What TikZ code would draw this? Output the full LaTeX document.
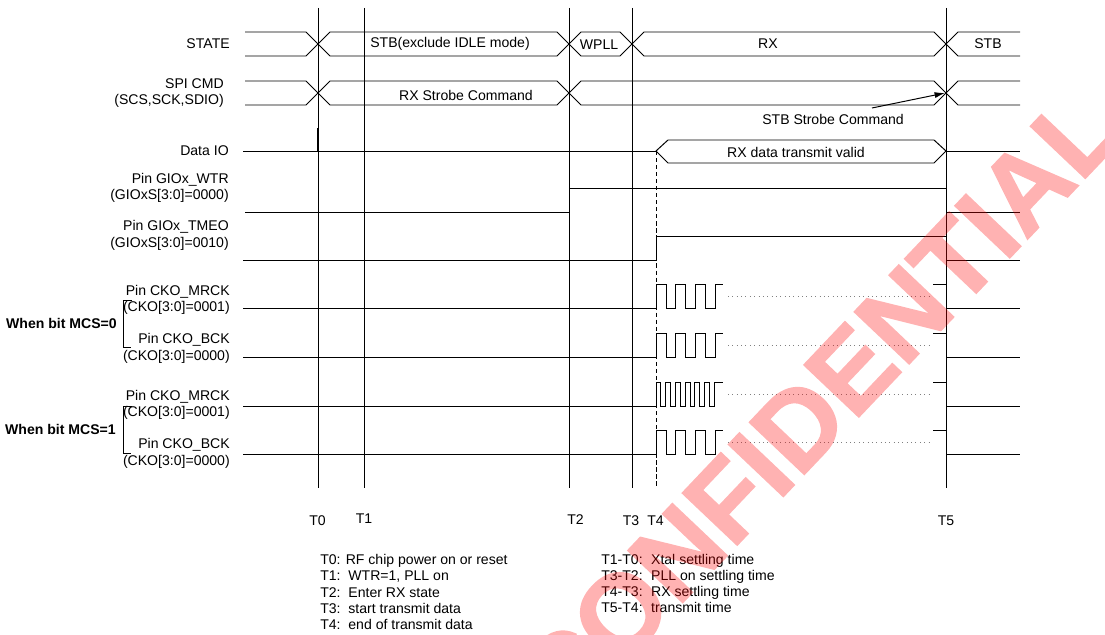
\documentclass[tikz,border=0pt]{standalone}
\usepackage{fontspec}
\setmainfont{Liberation Sans}
\newfontfamily\wmfont{Liberation Sans Bold}[FakeBold=1.5]
\usetikzlibrary{arrows.meta}

\begin{document}
\begin{tikzpicture}[x=0.025cm,y=-0.025cm,>={Latex[length=2.6mm,width=1.5mm]},
 font=\fontsize{10}{11.6}\selectfont,
 sig/.style={line width=0.7pt},
 tline/.style={line width=0.7pt},
 lbl/.style={anchor=east,align=right,inner sep=0pt},
 txt/.style={inner sep=0pt},
 grp/.style={anchor=east,inner sep=0pt,font=\fontsize{10}{11.6}\selectfont\bfseries},
 dots/.style={gray,line width=0.6pt,dash pattern=on 0.7pt off 2.4pt}]
\useasboundingbox (0,0) rectangle (1105,635);
% signal names
\node[lbl] (nstate) at (230,44) {STATE};
\node[lbl] (nspi) at (224,93) {SPI CMD\\(SCS,SCK,SDIO)};
\node[lbl] (ndio) at (229,151) {Data IO};
\node[lbl] (nwtr) at (229,188) {Pin GIOx\_WTR\\(GIOxS[3:0]=0000)};
\node[lbl] (ntmeo) at (229,235.5) {Pin GIOx\_TMEO\\(GIOxS[3:0]=0010)};
\node[lbl] (nmrck0) at (230,300) {Pin CKO\_MRCK\\(CKO[3:0]=0001)};
\node[lbl] (nbck0) at (230,348.5) {Pin CKO\_BCK\\(CKO[3:0]=0000)};
\node[lbl] (nmrck1) at (230,405) {Pin CKO\_MRCK\\(CKO[3:0]=0001)};
\node[lbl] (nbck1) at (230,453.5) {Pin CKO\_BCK\\(CKO[3:0]=0000)};
\node[grp] (mcs0) at (117,323) {When bit MCS=0};
\node[grp] (mcs1) at (116,429) {When bit MCS=1};
\draw[sig] (132,300) -- (123,300) -- (123,347) -- (131,347);
\draw[sig] (132,406) -- (123,406) -- (123,453) -- (131,453);
% time marks
\foreach \t in {318,364,569,632,946} \draw[tline] (\t,8) -- (\t,488);
\draw[tline,dash pattern=on 3pt off 2pt] (656,151) -- (656,488);
\node[txt] (t0) at (317.5,521) {T0};
\node[txt] (t1) at (364,519) {T1};
\node[txt] (t2) at (575.5,520) {T2};
\node[txt] (t3) at (631,521) {T3};
\node[txt] (t4) at (655.5,521) {T4};
\node[txt] (t5) at (946,521) {T5};
% STATE
\draw[sig] (245,32) -- (306,32) -- (318,44) -- (306,56) -- (245,56);
\foreach \a/\b in {318/569,569/632,632/946}
  \draw[sig] (\a,44) -- (\a+12,32) -- (\b-12,32) -- (\b,44) -- (\b-12,56) -- (\a+12,56) -- cycle;
\draw[sig] (1020,32) -- (958,32) -- (946,44) -- (958,56) -- (1020,56);
\node[txt] (sstb) at (450,44) {STB(exclude IDLE mode)};
\node[txt] (swpll) at (599,45) {WPLL};
\node[txt] (srx) at (768,44) {RX};
\node[txt] (sstb2) at (988,44) {STB};
% SPI CMD
\draw[sig] (245,81) -- (306,81) -- (318,93) -- (306,105) -- (245,105);
\foreach \a/\b in {318/569,569/946}
  \draw[sig] (\a,93) -- (\a+12,81) -- (\b-12,81) -- (\b,93) -- (\b-12,105) -- (\a+12,105) -- cycle;
\draw[sig] (1020,81) -- (958,81) -- (946,93) -- (958,105) -- (1020,105);
\node[txt] (rxcmd) at (466,95) {RX Strobe Command};
\node[txt] (stbcmd) at (833,119) {STB Strobe Command};
\coordinate (cmdtail) at (872,108);
\coordinate (cmdx) at (945,93);
\draw[->,sig] (cmdtail) -- (cmdx);
% Data IO
\draw[sig] (243,151) -- (656,151);
\draw[sig] (656,151) -- (668,140) -- (934,140) -- (946,151) -- (934,163) -- (668,163) -- cycle;
\draw[sig] (946,151) -- (1020,151);
\draw[line width=1.2pt] (318,128) -- (318,151);
\node[txt] (dvalid) at (796,152) {RX data transmit valid};
% GIO pins
\draw[sig] (245,212) -- (569,212) -- (569,188) -- (946,188);
\draw[sig] (946,212) -- (1020,212);
\draw[sig] (243,260) -- (656,260) -- (656,236) -- (946,236) -- (946,260) -- (1020,260);
% clocks
\foreach \yb in {308,357,454}
  \draw[sig] (243,\yb) -- (656,\yb) -- (656,\yb-24)
    \foreach \k in {1,2,3}{ -- ++(10,0) -- ++(0,24) -- ++(9.7,0) -- ++(0,-24)} -- ++(8,0);
\draw[sig] (243,406) -- (656,406) -- (656,382)
    \foreach \k in {1,...,6}{ -- ++(4.9,0) -- ++(0,24) -- ++(4.8,0) -- ++(0,-24)} -- ++(9,0);
\foreach \yb in {308,357,406,454}{
  \draw[dots] (728,\yb-12) -- (931,\yb-12);
  \draw[sig] (933,\yb-24) -- (946,\yb-24);
  \draw[sig] (946,\yb) -- (1020,\yb);
}
% notes
\node[txt,anchor=west,align=left] (notes) at (320,592) {T0: RF chip power on or reset\\
T1:\ \ WTR=1, PLL on\\T2:\ \ Enter RX state\\T3:\ \ start transmit data\\T4:\ \ end of transmit data};
\node[txt,anchor=west] (times) at (601,585) {\begin{tabular}{@{}l@{\hspace{6pt}}l@{}}
T1-T0: & Xtal settling time\\[-0.3pt]
T3-T2: & PLL on settling time\\[-0.3pt]
T4-T3: & RX settling time\\[-0.3pt]
T5-T4: & transmit time\end{tabular}};
% watermark
\begin{scope}[transparency group,opacity=0.3]
\clip (0,0) rectangle (1105,635);
\node[text=red,rotate=46.5,font=\fontsize{78}{78}\selectfont\wmfont] (wmark) at (818,405) {CONFIDENTIAL};
\end{scope}
\end{tikzpicture}
\end{document}
